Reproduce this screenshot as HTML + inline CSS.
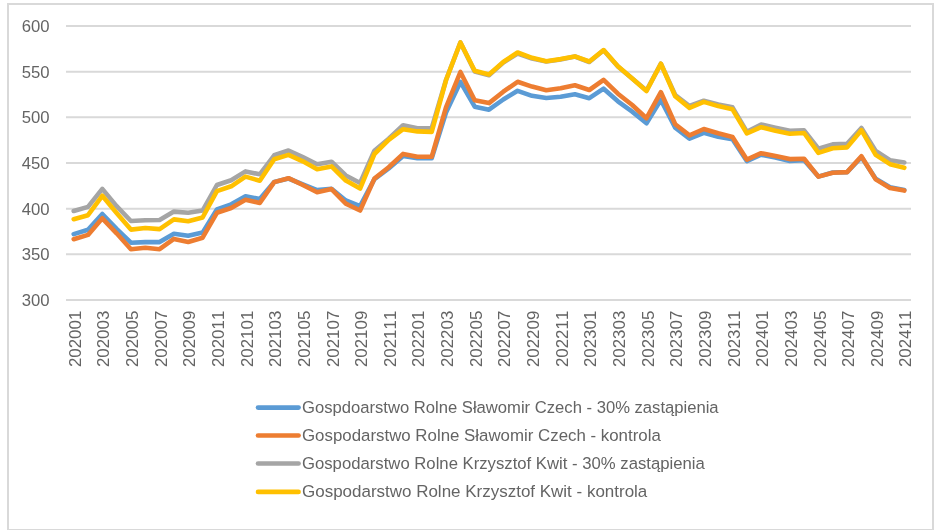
<!DOCTYPE html>
<html><head><meta charset="utf-8"><style>
html,body{margin:0;padding:0;background:#fff;}
svg{display:block;will-change:transform;}
text{font-family:"Liberation Sans",sans-serif;font-size:16.7px;fill:#646464;font-kerning:none;}
.xl{font-size:16.9px;}
</style></head><body>
<svg width="940" height="530" viewBox="0 0 940 530">
<rect x="0" y="0" width="940" height="530" fill="#fff"/>
<rect x="8" y="4" width="925" height="526" fill="none" stroke="#D9D9D9" stroke-width="2"/>
<g stroke="#D9D9D9" stroke-width="2">
<line x1="66" x2="911" y1="26.00" y2="26.00" />
<line x1="66" x2="911" y1="71.67" y2="71.67" />
<line x1="66" x2="911" y1="117.33" y2="117.33" />
<line x1="66" x2="911" y1="163.00" y2="163.00" />
<line x1="66" x2="911" y1="208.67" y2="208.67" />
<line x1="66" x2="911" y1="254.33" y2="254.33" />
<line x1="66" x2="911" y1="300.00" y2="300.00" />
</g>
<g>
<text x="49.5" y="32.00" text-anchor="end">600</text>
<text x="49.5" y="77.67" text-anchor="end">550</text>
<text x="49.5" y="123.33" text-anchor="end">500</text>
<text x="49.5" y="169.00" text-anchor="end">450</text>
<text x="49.5" y="214.67" text-anchor="end">400</text>
<text x="49.5" y="260.33" text-anchor="end">350</text>
<text x="49.5" y="306.00" text-anchor="end">300</text>
</g>
<g>
<text transform="translate(80.76,310.7) rotate(-90)" text-anchor="end" class="xl">202001</text>
<text transform="translate(109.41,310.7) rotate(-90)" text-anchor="end" class="xl">202003</text>
<text transform="translate(138.05,310.7) rotate(-90)" text-anchor="end" class="xl">202005</text>
<text transform="translate(166.69,310.7) rotate(-90)" text-anchor="end" class="xl">202007</text>
<text transform="translate(195.34,310.7) rotate(-90)" text-anchor="end" class="xl">202009</text>
<text transform="translate(223.98,310.7) rotate(-90)" text-anchor="end" class="xl">202011</text>
<text transform="translate(252.63,310.7) rotate(-90)" text-anchor="end" class="xl">202101</text>
<text transform="translate(281.27,310.7) rotate(-90)" text-anchor="end" class="xl">202103</text>
<text transform="translate(309.91,310.7) rotate(-90)" text-anchor="end" class="xl">202105</text>
<text transform="translate(338.56,310.7) rotate(-90)" text-anchor="end" class="xl">202107</text>
<text transform="translate(367.20,310.7) rotate(-90)" text-anchor="end" class="xl">202109</text>
<text transform="translate(395.85,310.7) rotate(-90)" text-anchor="end" class="xl">202111</text>
<text transform="translate(424.49,310.7) rotate(-90)" text-anchor="end" class="xl">202201</text>
<text transform="translate(453.13,310.7) rotate(-90)" text-anchor="end" class="xl">202203</text>
<text transform="translate(481.78,310.7) rotate(-90)" text-anchor="end" class="xl">202205</text>
<text transform="translate(510.42,310.7) rotate(-90)" text-anchor="end" class="xl">202207</text>
<text transform="translate(539.07,310.7) rotate(-90)" text-anchor="end" class="xl">202209</text>
<text transform="translate(567.71,310.7) rotate(-90)" text-anchor="end" class="xl">202211</text>
<text transform="translate(596.35,310.7) rotate(-90)" text-anchor="end" class="xl">202301</text>
<text transform="translate(625.00,310.7) rotate(-90)" text-anchor="end" class="xl">202303</text>
<text transform="translate(653.64,310.7) rotate(-90)" text-anchor="end" class="xl">202305</text>
<text transform="translate(682.29,310.7) rotate(-90)" text-anchor="end" class="xl">202307</text>
<text transform="translate(710.93,310.7) rotate(-90)" text-anchor="end" class="xl">202309</text>
<text transform="translate(739.57,310.7) rotate(-90)" text-anchor="end" class="xl">202311</text>
<text transform="translate(768.22,310.7) rotate(-90)" text-anchor="end" class="xl">202401</text>
<text transform="translate(796.86,310.7) rotate(-90)" text-anchor="end" class="xl">202403</text>
<text transform="translate(825.51,310.7) rotate(-90)" text-anchor="end" class="xl">202405</text>
<text transform="translate(854.15,310.7) rotate(-90)" text-anchor="end" class="xl">202407</text>
<text transform="translate(882.79,310.7) rotate(-90)" text-anchor="end" class="xl">202409</text>
<text transform="translate(911.44,310.7) rotate(-90)" text-anchor="end" class="xl">202411</text>
</g>
<g fill="none" stroke-width="4.6" stroke-linejoin="round" stroke-linecap="round">
<polyline stroke="#5B9BD5" points="73.7,234.1 88.0,229.8 102.3,214.0 116.6,228.8 130.9,242.7 145.3,242.1 159.6,242.1 173.9,233.8 188.2,235.8 202.6,232.6 216.9,209.4 231.2,204.3 245.5,196.3 259.8,199.1 274.2,182.1 288.5,178.5 302.8,184.3 317.1,190.1 331.5,188.8 345.8,200.5 360.1,206.2 374.4,179.2 388.7,168.4 403.1,155.9 417.4,158.3 431.7,158.3 446.0,112.5 460.4,81.9 474.7,106.7 489.0,109.7 503.3,99.5 517.6,90.8 532.0,95.8 546.3,98.0 560.6,96.8 574.9,94.3 589.3,98.2 603.6,88.7 617.9,101.3 632.2,111.6 646.5,123.2 660.9,99.9 675.2,127.7 689.5,138.6 703.8,132.8 718.2,136.7 732.5,139.3 746.8,161.1 761.1,154.7 775.4,157.6 789.8,160.9 804.1,160.2 818.4,176.6 832.7,172.5 847.1,172.1 861.4,157.1 875.7,178.7 890.0,187.3 904.3,189.9"/>
<polyline stroke="#ED7D31" points="73.7,239.2 88.0,234.9 102.3,218.3 116.6,233.3 130.9,249.2 145.3,247.7 159.6,249.2 173.9,238.9 188.2,242.0 202.6,237.7 216.9,212.8 231.2,208.0 245.5,199.7 259.8,203.0 274.2,182.1 288.5,178.2 302.8,185.0 317.1,192.3 331.5,189.1 345.8,203.7 360.1,210.5 374.4,178.6 388.7,167.3 403.1,153.9 417.4,156.8 431.7,156.8 446.0,107.3 460.4,72.0 474.7,100.3 489.0,103.1 503.3,91.7 517.6,81.8 532.0,86.6 546.3,90.2 560.6,88.3 574.9,85.3 589.3,90.0 603.6,79.9 617.9,93.7 632.2,105.0 646.5,118.2 660.9,92.2 675.2,124.3 689.5,135.4 703.8,129.0 718.2,133.3 732.5,136.9 746.8,159.6 761.1,153.2 775.4,156.1 789.8,159.1 804.1,158.7 818.4,176.6 832.7,172.8 847.1,172.1 861.4,156.2 875.7,179.4 890.0,188.0 904.3,190.6"/>
<polyline stroke="#A5A5A5" points="73.7,211.0 88.0,206.9 102.3,188.9 116.6,206.2 130.9,221.0 145.3,220.2 159.6,220.0 173.9,211.6 188.2,212.8 202.6,210.5 216.9,185.0 231.2,180.3 245.5,171.4 259.8,174.3 274.2,155.3 288.5,150.5 302.8,157.1 317.1,164.2 331.5,161.7 345.8,175.5 360.1,183.0 374.4,150.7 388.7,138.7 403.1,125.2 417.4,128.2 431.7,128.2 446.0,80.0 460.4,42.5 474.7,71.5 489.0,75.2 503.3,62.5 517.6,53.5 532.0,58.5 546.3,61.5 560.6,59.5 574.9,56.5 589.3,62.0 603.6,50.3 617.9,66.5 632.2,78.5 646.5,90.5 660.9,63.7 675.2,95.0 689.5,106.0 703.8,100.7 718.2,104.5 732.5,107.3 746.8,131.7 761.1,124.5 775.4,127.7 789.8,130.7 804.1,130.4 818.4,148.6 832.7,144.4 847.1,143.7 861.4,128.0 875.7,151.0 890.0,160.2 904.3,162.5"/>
<polyline stroke="#FFC000" points="73.7,219.2 88.0,215.2 102.3,195.8 116.6,213.0 130.9,229.6 145.3,228.0 159.6,229.1 173.9,219.4 188.2,221.3 202.6,217.5 216.9,191.1 231.2,186.3 245.5,176.6 259.8,180.7 274.2,159.2 288.5,154.9 302.8,161.3 317.1,169.2 331.5,166.4 345.8,180.5 360.1,188.6 374.4,154.0 388.7,139.8 403.1,129.2 417.4,131.4 431.7,131.9 446.0,80.3 460.4,42.5 474.7,70.7 489.0,74.5 503.3,62.0 517.6,52.5 532.0,57.8 546.3,61.2 560.6,59.1 574.9,56.4 589.3,61.5 603.6,50.1 617.9,66.3 632.2,78.6 646.5,91.0 660.9,63.7 675.2,96.2 689.5,107.9 703.8,101.9 718.2,106.1 732.5,109.3 746.8,133.4 761.1,127.2 775.4,130.7 789.8,133.7 804.1,133.0 818.4,152.9 832.7,148.3 847.1,147.4 861.4,130.2 875.7,154.8 890.0,164.2 904.3,167.8"/>
</g>
<g>
<line x1="258" x2="298.6" y1="407.6" y2="407.6" stroke="#5B9BD5" stroke-width="4.6" stroke-linecap="round"/>
<text x="302.0" y="412.6" textLength="416.6" lengthAdjust="spacingAndGlyphs">Gospdoarstwo Rolne Sławomir Czech - 30% zastąpienia</text>
<line x1="258" x2="298.6" y1="435.5" y2="435.5" stroke="#ED7D31" stroke-width="4.6" stroke-linecap="round"/>
<text x="302.0" y="440.9" textLength="358.8" lengthAdjust="spacingAndGlyphs">Gospodarstwo Rolne Sławomir Czech - kontrola</text>
<line x1="258" x2="298.6" y1="463.5" y2="463.5" stroke="#A5A5A5" stroke-width="4.6" stroke-linecap="round"/>
<text x="302.0" y="468.9" textLength="402.8" lengthAdjust="spacingAndGlyphs">Gospodarstwo Rolne Krzysztof Kwit - 30% zastąpienia</text>
<line x1="258" x2="298.6" y1="491.9" y2="491.9" stroke="#FFC000" stroke-width="4.6" stroke-linecap="round"/>
<text x="302.0" y="497.1" textLength="345.3" lengthAdjust="spacingAndGlyphs">Gospodarstwo Rolne Krzysztof Kwit - kontrola</text>
</g>
</svg>
</body></html>
